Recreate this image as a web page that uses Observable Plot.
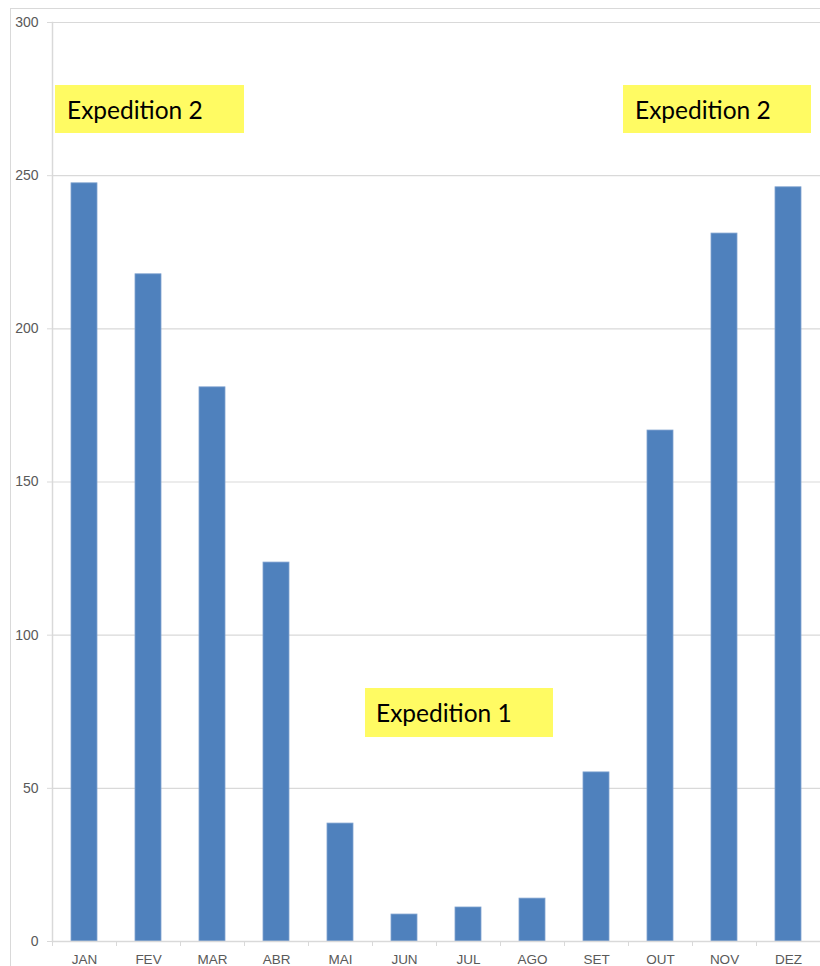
<!DOCTYPE html>
<html>
<head>
<meta charset="utf-8">
<script src="https://cdn.jsdelivr.net/npm/d3@7"></script>
<script src="https://cdn.jsdelivr.net/npm/@observablehq/plot@0.6"></script>
<style>
  html, body { margin: 0; padding: 0; background: #fff; }
  #wrap { position: relative; width: 820px; height: 966px; overflow: hidden; }
  #frame { position: absolute; left: 10px; top: 8px; width: 900px; height: 1000px;
           border-left: 1.5px solid #d9d9d9; border-top: 1.5px solid #d9d9d9; pointer-events: none; }
  .note { position: absolute; background: #fffb63; font-family: Lato, "Open Sans", sans-serif;
          font-size: 24.5px; color: #000; display: flex; align-items: center; box-sizing: border-box; }
</style>
</head>
<body>
<div id="wrap"><div id="frame"></div></div>
<script>
const months = ["JAN","FEV","MAR","ABR","MAI","JUN","JUL","AGO","SET","OUT","NOV","DEZ"];
const values = [247.5, 217.8, 180.9, 123.7, 38.5, 8.8, 11.1, 14.0, 55.2, 166.8, 231.1, 246.2];
const yTicks = [0, 50, 100, 150, 200, 250, 300];
const notes = ["Expedition 2", "Expedition 2", "Expedition 1"];

const data = months.map((m, i) => ({month: m, value: values[i]}));

const chart = Plot.plot({
  width: 820,
  height: 966,
  marginLeft: 52,
  marginRight: 0,
  marginTop: 22,
  marginBottom: 25,
  style: {fontFamily: "'Liberation Sans', Arial, sans-serif", fontSize: "14px", color: "#595959", background: "transparent"},
  x: {domain: months, paddingInner: 0.6, paddingOuter: 0.3, label: null},
  y: {domain: [0, 300], ticks: yTicks, label: null},
  marks: [
    Plot.gridY(yTicks, {stroke: "#d9d9d9", strokeOpacity: 1, strokeWidth: 1.2}),
    Plot.frame({anchor: "left", stroke: "#d9d9d9", strokeWidth: 1.5}),
    Plot.barY(data, {x: "month", y: "value", fill: "#4f81bd", stroke: "#7fa2cf", strokeWidth: 0.8}),
    Plot.ruleY([0], {stroke: "#d9d9d9", strokeWidth: 1.5}),
    Plot.axisY(yTicks, {tickSize: 5, tickPadding: 9, stroke: "#d9d9d9", fill: "#595959", fontSize: 14, label: null}),
    Plot.axisX(months, {tickSize: 5, dx: 32, text: null, stroke: "#d9d9d9", label: null}),
    Plot.axisX(["JAN"], {tickSize: 5, dx: -32, text: null, stroke: "#d9d9d9", label: null}),
    Plot.axisX(months, {tickSize: 0, tickPadding: 13, fill: "#595959", fontSize: 13.5, label: null})
  ]
});

const wrap = document.getElementById("wrap");
wrap.insertBefore(chart, wrap.firstChild);

const notePos = [
  {left: 55, top: 85, width: 189, height: 48, pad: 12},
  {left: 623, top: 85, width: 188, height: 48, pad: 12},
  {left: 365, top: 688, width: 188, height: 49, pad: 11}
];
notes.forEach((t, i) => {
  const p = notePos[i];
  const d = document.createElement("div");
  d.className = "note";
  d.style.left = p.left + "px";
  d.style.top = p.top + "px";
  d.style.width = p.width + "px";
  d.style.height = p.height + "px";
  d.style.paddingLeft = p.pad + "px";
  d.textContent = t;
  wrap.appendChild(d);
});
</script>
</body>
</html>
